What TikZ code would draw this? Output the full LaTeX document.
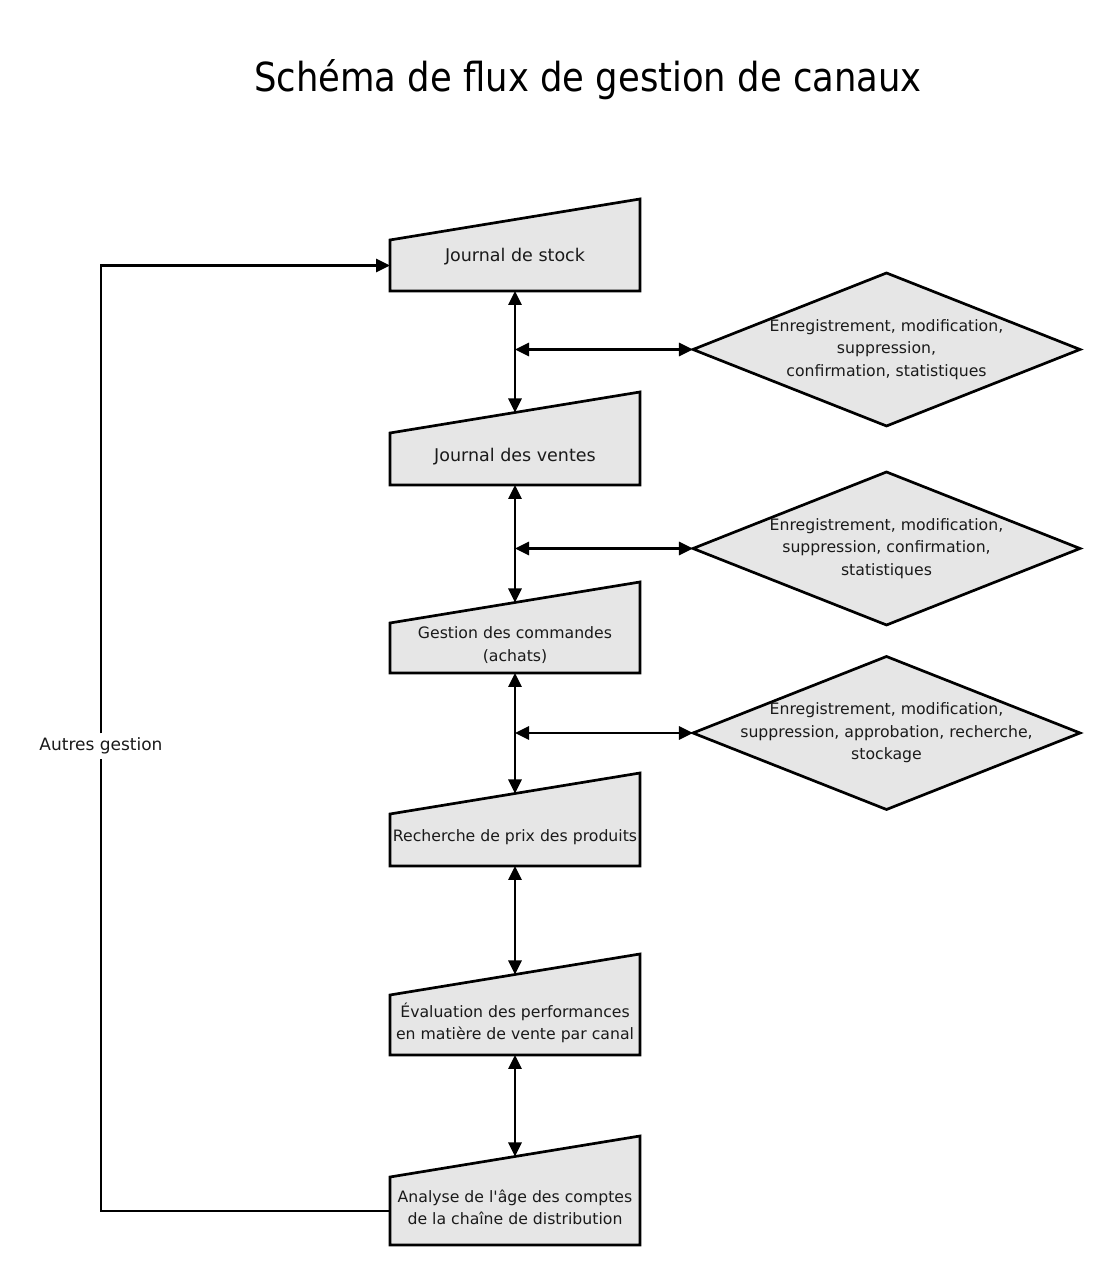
\documentclass[tikz,border=0pt]{standalone}
\usepackage{fontspec}
\setmainfont{DejaVu Sans}
\newfontfamily\titlefont[FakeStretch=0.885]{DejaVu Sans}
\usepackage{xcolor}
\usepackage{tikz}
\usetikzlibrary{arrows.meta, positioning, shapes.geometric, backgrounds}
\definecolor{boxgray}{HTML}{E6E6E6}
\definecolor{txt}{HTML}{1A1A1A}
\newcommand{\smalltxt}{\fontsize{15.7}{22.5}\selectfont}
\newcommand{\bigtxt}{\fontsize{17.5}{22.5}\selectfont}

\begin{document}
\begin{tikzpicture}[x=1pt, y=1pt, line width=2.7pt, >={Triangle[length=14pt, width=13pt]},
  box/.style={align=center, inner sep=2pt, outer sep=0pt, minimum width=250pt, font=\smalltxt, text=txt},
  trap/.style={draw, line width=2.7pt, fill=boxgray, line join=miter},
  dia/.style={diamond, draw, fill=boxgray, line join=miter, inner sep=0pt, outer sep=0pt, minimum width=387pt, minimum height=153pt},
  dlbl/.style={align=center, inner sep=0pt, font=\smalltxt, text=txt}]
\useasboundingbox (0,0) rectangle (1117,1281);
\node[font=\titlefont\fontsize{40}{48}\selectfont, text=black] (title) at (588,1201) {Schéma de flux de gestion de canaux};
% column of manual inputs
\node[box, font=\bigtxt, minimum height=51pt, text depth=22pt] (stock) at (515,1015.5) {Journal de stock};
\node[box, font=\bigtxt, minimum height=52pt, text depth=8pt, below=142pt of stock] (ventes) {Journal des ventes};
\node[box, minimum height=50pt, text depth=8pt, below=138pt of ventes] (commandes) {Gestion des commandes\\(achats)};
\node[box, minimum height=52pt, text depth=8pt, below=141pt of commandes] (prix) {Recherche de prix des produits};
\node[box, minimum height=60pt, text depth=8pt, below=129pt of prix] (perf) {Évaluation des performances\\en matière de vente par canal};
\node[box, minimum height=68pt, text depth=8pt, below=122pt of perf] (analyse) {Analyse de l\textquotesingle âge des comptes\\de la chaîne de distribution};
% slanted tops
\begin{scope}[on background layer]
\foreach \n in {stock, ventes, commandes, prix, perf, analyse} {
  \path[trap] (\n.south west) -- (\n.south east) -- ([yshift=41pt]\n.north east) -- (\n.north west) -- cycle;
  \coordinate (\n-in) at ([yshift=20.5pt]\n.north);
}
\end{scope}
% operations
\node[dia, label={[dlbl]center:Enregistrement, modification,\\suppression,\\confirmation, statistiques}] (d1) at (886.5,931.5) {};
\node[dia, label={[dlbl]center:Enregistrement, modification,\\suppression, confirmation,\\statistiques}] (d2) at (886.5,732.5) {};
\node[dia, label={[dlbl]center:Enregistrement, modification,\\suppression, approbation, recherche,\\stockage}] (d3) at (886.5,548) {};
\node[font=\fontsize{17}{20}\selectfont, text=txt, fill=white, inner sep=3pt] (autres) at (101,535) {Autres gestion};
\draw[<->] (stock) -- (ventes-in);
\draw[<->] (ventes) -- (commandes-in);
\draw[<->] (commandes) -- (prix-in);
\draw[<->] (prix) -- (perf-in);
\draw[<->] (perf) -- (analyse-in);
\draw[<->] (d1.west -| stock) -- (d1);
\draw[<->] (d2.west -| ventes) -- (d2);
\draw[<->] (d3.west -| commandes) -- (d3);
\draw (analyse) -| (autres);
\draw[->] (autres) |- (stock);
\end{tikzpicture}
\end{document}
